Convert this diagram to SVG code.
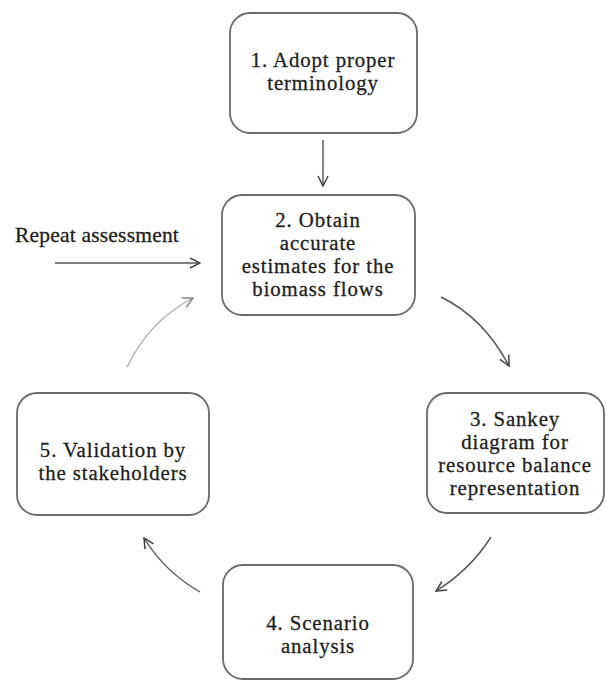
<svg xmlns="http://www.w3.org/2000/svg" width="606" height="681" viewBox="0 0 606 681">
<style>
.box{fill:#fff;stroke:#6a6a6a;stroke-width:1.8}
.t{font-family:'Liberation Serif','Times New Roman',serif;font-size:20.8px;letter-spacing:0.9px;fill:#1e1e1e;stroke:#1e1e1e;stroke-width:0.3;text-anchor:middle}
.c{fill:none;stroke:#555;stroke-width:1.4}
.cl{fill:none;stroke:#aaa;stroke-width:1.3}
</style>
<defs>
<marker id="ah" viewBox="0 0 12 12" refX="11" refY="6" markerWidth="12" markerHeight="12" markerUnits="userSpaceOnUse" orient="auto">
<path d="M1,1 L11,6 L1,11" fill="none" stroke="#444" stroke-width="1.5"/>
</marker>
<marker id="ahl" viewBox="0 0 12 12" refX="11" refY="6" markerWidth="12" markerHeight="12" markerUnits="userSpaceOnUse" orient="auto">
<path d="M1,1 L11,6 L1,11" fill="none" stroke="#888" stroke-width="1.5"/>
</marker>
</defs>
<rect width="606" height="681" fill="#fff"/>
<g id="connectors">
<line class="c" x1="323" y1="140" x2="323" y2="186" marker-end="url(#ah)"/>
<line class="c" x1="55" y1="263" x2="200" y2="263" marker-end="url(#ah)"/>
<path class="c" d="M441 297 Q484 318 509 366" marker-end="url(#ah)"/>
<path class="c" d="M491 537 Q470 570 436 591" marker-end="url(#ah)"/>
<path class="c" d="M200 592 Q165 572 144 538" marker-end="url(#ah)"/>
<path class="cl" d="M127 367 Q150 320 193 298" marker-end="url(#ahl)"/>
</g>
<g id="repeat-label">
<text class="t" x="15" y="242" style="text-anchor:start;font-size:21.5px;letter-spacing:0.2px">Repeat assessment</text>
</g>
<g id="node1">
<rect class="box" x="230" y="13" width="187" height="120" rx="20"/>
<text class="t" x="323" y="67">1. Adopt proper</text>
<text class="t" x="323" y="90">terminology</text>
</g>
<g id="node2">
<rect class="box" x="222" y="195" width="193" height="120" rx="20"/>
<text class="t" x="318" y="227">2. Obtain</text>
<text class="t" x="318" y="250">accurate</text>
<text class="t" x="318" y="273">estimates for the</text>
<text class="t" x="318" y="296">biomass flows</text>
</g>
<g id="node3">
<rect class="box" x="427" y="393" width="177" height="120" rx="20"/>
<text class="t" x="515" y="426">3. Sankey</text>
<text class="t" x="515" y="449">diagram for</text>
<text class="t" x="515" y="472">resource balance</text>
<text class="t" x="515" y="495">representation</text>
</g>
<g id="node4">
<rect class="box" x="223" y="565" width="190" height="114" rx="20"/>
<text class="t" x="318" y="630">4. Scenario</text>
<text class="t" x="318" y="653">analysis</text>
</g>
<g id="node5">
<rect class="box" x="17" y="393" width="192" height="122" rx="20"/>
<text class="t" x="113" y="457">5. Validation by</text>
<text class="t" x="113" y="480">the stakeholders</text>
</g>
</svg>
